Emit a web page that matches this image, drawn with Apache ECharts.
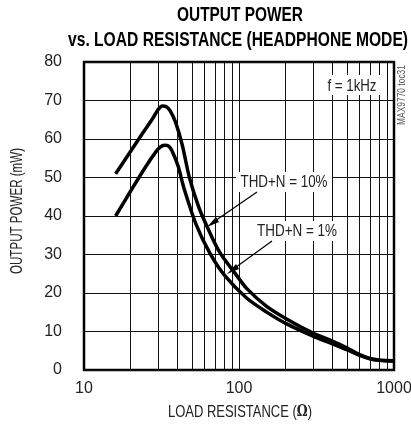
<!DOCTYPE html>
<html>
<head>
<meta charset="utf-8">
<script src="https://cdn.jsdelivr.net/npm/echarts@6/dist/echarts.min.js"></script>
<style>
  html, body { margin: 0; padding: 0; background: #fff; }
  #chart { width: 411px; height: 430px; }
</style>
</head>
<body>
<div id="chart"></div>
<script>
  // load resistance (ohm) / output power (mW)
  var thd10R = [16, 20, 24, 28, 30, 32, 34, 36, 39, 43, 48, 55, 62, 75, 96, 112, 150, 200, 300, 400, 500, 600, 700, 800, 1000];
  var thd10P = [51, 56.8, 61.6, 65.6, 67.6, 68.6, 68.4, 67.3, 64.3, 58.5, 49.8, 42.3, 37.4, 30.6, 24.7, 21.2, 16.6, 13.4, 9.6, 7.5, 5.7, 4.0, 3.0, 2.6, 2.4];
  var thd1R = [16, 20, 25, 29, 31, 33, 35, 37, 40.6, 44, 53, 65, 81, 112, 150, 200, 300, 400, 500, 600, 700, 800, 1000];
  var thd1P = [40, 46.5, 52.8, 56.6, 57.9, 58.4, 58.2, 56.9, 52.8, 47.4, 37.7, 30.3, 24.5, 18.7, 15.1, 12.1, 8.8, 6.8, 5.2, 3.8, 2.9, 2.5, 2.3];
  var minorX = [20, 30, 40, 50, 60, 70, 80, 90, 100, 200, 300, 400, 500, 600, 700, 800, 900];
  var yTicks = [0, 10, 20, 30, 40, 50, 60, 70, 80];

  var SANS = '"Liberation Sans", Arial, sans-serif';
  var SERIF = '"DejaVu Serif", "Liberation Serif", serif';

  function pairs(xs, ys) {
    return xs.map(function (x, i) { return [x, ys[i]]; });
  }

  // condensed look: squeeze a text to the width it has in the picture
  var ctx = document.createElement('canvas').getContext('2d');
  function measure(text, font) {
    ctx.font = font;
    return ctx.measureText(text).width;
  }
  function fitText(text, font, width, x, y, rot, color) {
    return {
      type: 'text', x: x, y: y, z: 21,
      rotation: rot || 0,
      scaleX: width / measure(text, font),
      style: { text: text, font: font, fill: color || '#222', align: 'center', verticalAlign: 'middle' }
    };
  }
  function box(x, y, w, h) {
    return { type: 'rect', shape: { x: x, y: y, width: w, height: h }, style: { fill: '#fff' }, z: 20 };
  }

  var xNameFont = '17px ' + SANS;
  var omegaFont = 'bold 16px ' + SERIF;
  var xNameW = measure('LOAD RESISTANCE ()', xNameFont) + measure('Ω', omegaFont);

  var chart = echarts.init(document.getElementById('chart'));

  var option = {
    animation: false,
    grid: {
      left: 84,
      right: 17,
      top: 62,
      bottom: 60,
      show: true,
      borderColor: '#000',
      borderWidth: 2.5,
      backgroundColor: 'transparent',
      outerBoundsMode: 'none',
      containLabel: false
    },
    xAxis: {
      type: 'log',
      logBase: 10,
      min: 10,
      max: 1000,
      axisLine: { show: false },
      axisTick: { show: false },
      axisLabel: {
        margin: 11,
        fontFamily: SANS,
        fontSize: 16,
        color: '#222',
        formatter: function (v) { return String(Math.round(v)); }
      },
      splitLine: { show: false }
    },
    yAxis: {
      type: 'value',
      min: yTicks[0],
      max: yTicks[yTicks.length - 1],
      interval: 10,
      axisLine: { show: false },
      axisTick: { show: false },
      axisLabel: {
        margin: 22,
        fontFamily: SANS,
        fontSize: 16,
        color: '#222'
      },
      splitLine: { show: true, lineStyle: { color: '#111', width: 1 } }
    },
    series: [
      {
        // vertical log grid lines
        type: 'line',
        data: [],
        silent: true,
        z: 1,
        markLine: {
          silent: true,
          symbol: 'none',
          animation: false,
          label: { show: false },
          lineStyle: { color: '#111', width: 1, type: 'solid' },
          data: minorX.map(function (v) { return { xAxis: v }; })
        }
      },
      {
        name: 'THD+N = 10%',
        type: 'line',
        data: pairs(thd10R, thd10P),
        smooth: 0.3,
        showSymbol: false,
        z: 10,
        lineStyle: { color: '#000', width: 3.5 }
      },
      {
        name: 'THD+N = 1%',
        type: 'line',
        data: pairs(thd1R, thd1P),
        smooth: 0.3,
        showSymbol: false,
        z: 10,
        lineStyle: { color: '#000', width: 3.5 }
      }
    ],
    graphic: [
      fitText('OUTPUT POWER', 'bold 21px ' + SANS, 126, 240, 15, 0, '#000'),
      fitText('vs. LOAD RESISTANCE (HEADPHONE MODE)', 'bold 20px ' + SANS, 340, 238, 40, 0, '#000'),
      fitText('OUTPUT POWER (mW)', '17px ' + SANS, 126, 17, 211, Math.PI / 2),
      {
        type: 'text', x: 240, y: 412, z: 21,
        scaleX: 144 / xNameW,
        style: {
          text: '{a|LOAD RESISTANCE (}{b|Ω}{a|)}',
          align: 'center', verticalAlign: 'middle',
          rich: {
            a: { font: xNameFont, fill: '#222' },
            b: { font: omegaFont, fill: '#222' }
          }
        }
      },
      box(323, 75, 59, 20),
      fitText('f = 1kHz', '17px ' + SANS, 49, 352, 86),
      box(236, 172, 96, 20),
      fitText('THD+N = 10%', '17px ' + SANS, 87, 284, 182),
      box(253, 221, 88, 20),
      fitText('THD+N = 1%', '17px ' + SANS, 80, 297, 231),
      {
        type: 'line',
        shape: { x1: 257, y1: 192, x2: 212, y2: 223 },
        style: { stroke: '#000', lineWidth: 1.2 },
        z: 22
      },
      {
        type: 'polygon',
        shape: { points: [[207, 227], [216, 217], [219, 222]] },
        style: { fill: '#000' },
        z: 22
      },
      {
        type: 'line',
        shape: { x1: 272, y1: 241, x2: 232, y2: 270 },
        style: { stroke: '#000', lineWidth: 1.2 },
        z: 22
      },
      {
        type: 'polygon',
        shape: { points: [[227, 274], [236, 264], [239, 269]] },
        style: { fill: '#000' },
        z: 22
      },
      fitText('MAX9770 toc31', '10px ' + SANS, 60, 402, 95, Math.PI / 2, '#555')
    ]
  };

  chart.setOption(option);
</script>
</body>
</html>
